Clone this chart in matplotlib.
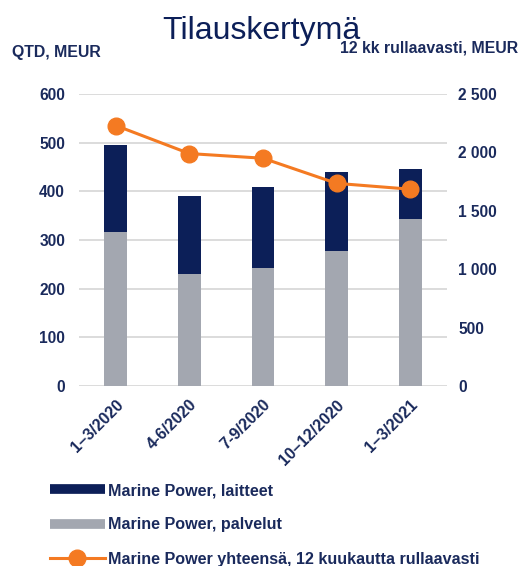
import matplotlib
matplotlib.use("Agg")
import matplotlib.pyplot as plt
from matplotlib.lines import Line2D
import numpy as np

plt.rcParams['font.family'] = ['Liberation Sans', 'DejaVu Sans']

categories = ["1\u20133/2020", "4-6/2020", "7-9/2020", "10\u201312/2020", "1\u20133/2021"]
palvelut = [317, 230, 242, 277, 343]
laitteet = [178, 160, 167, 163, 103]
yhteensa_12kk = [2230, 1990, 1950, 1735, 1685]
left_ticks = [0, 100, 200, 300, 400, 500, 600]
right_ticks = [0, 500, 1000, 1500, 2000, 2500]
right_tick_labels = ["0", "500", "1 000", "1 500", "2 000", "2 500"]

NAVY = "#0c1f58"
GRAY = "#a3a7b0"
ORANGE = "#f47a22"
TXT = "#1a2a5c"

fig = plt.figure(figsize=(5.22, 5.66), dpi=100)
ax = fig.add_axes([79/522, 1-386/566, (447-79)/522, (386-94)/566])
x = np.arange(len(categories))
w = 0.31
ax.bar(x, palvelut, w, color=GRAY, zorder=2)
ax.bar(x, laitteet, w, bottom=palvelut, color=NAVY, zorder=2)
ax.set_xlim(-0.5, len(categories)-0.5)
ax.set_ylim(0, 600)
ax.set_yticks(left_ticks)
ax.yaxis.grid(True, color="#d9d9d9", lw=1.3, zorder=0)
ax.set_axisbelow(True)
for s in ax.spines.values():
    s.set_visible(False)
ax.tick_params(axis='y', length=0, pad=10, labelsize=11.2, labelcolor=TXT)
ax.tick_params(axis='x', length=0, pad=8, labelsize=11.6, labelcolor=TXT)
ax.set_xticks(x)
ax.set_xticklabels(categories, rotation=45, ha='right', rotation_mode='anchor', fontweight='bold')
for t in ax.get_yticklabels():
    t.set_fontweight('bold')

ax2 = ax.twinx()
ax2.set_ylim(0, 2500)
ax2.plot(x, yhteensa_12kk, color=ORANGE, lw=2.2, marker='o', markersize=12, zorder=5)
ax2.set_yticks(right_ticks)
ax2.set_yticklabels(right_tick_labels, fontweight='bold')
ax2.tick_params(axis='y', length=0, pad=8, labelsize=11.2, labelcolor=TXT)
for s in ax2.spines.values():
    s.set_visible(False)

fig.text(0.5, 1-31/566, "Tilauskertymä", ha='center', va='center', fontsize=23, color=NAVY)
fig.text(12/522, 1-52/566, "QTD, MEUR", ha='left', va='center', fontsize=11.4, fontweight='bold', color=TXT)
fig.text(518/522, 1-48/566, "12 kk rullaavasti, MEUR", ha='right', va='center', fontsize=11.4, fontweight='bold', color=TXT)

handles = [Line2D([], [], color=NAVY, lw=7, solid_capstyle='butt'),
           Line2D([], [], color=GRAY, lw=7, solid_capstyle='butt'),
           Line2D([], [], color=ORANGE, lw=2.2, marker='o', markersize=12)]
labels = ["Marine Power, laitteet", "Marine Power, palvelut",
          "Marine Power yhteensä, 12 kuukautta rullaavasti"]
leg = fig.legend(handles, labels, loc='upper left', bbox_to_anchor=(50/522, 1-483/566),
                 frameon=False, handlelength=3.4, handletextpad=0.2, labelspacing=1.2,
                 borderaxespad=0, borderpad=0,
                 prop={'size': 11.6, 'weight': 'bold'})
for t in leg.get_texts():
    t.set_color(TXT)

fig.savefig("out.png", dpi=100)
